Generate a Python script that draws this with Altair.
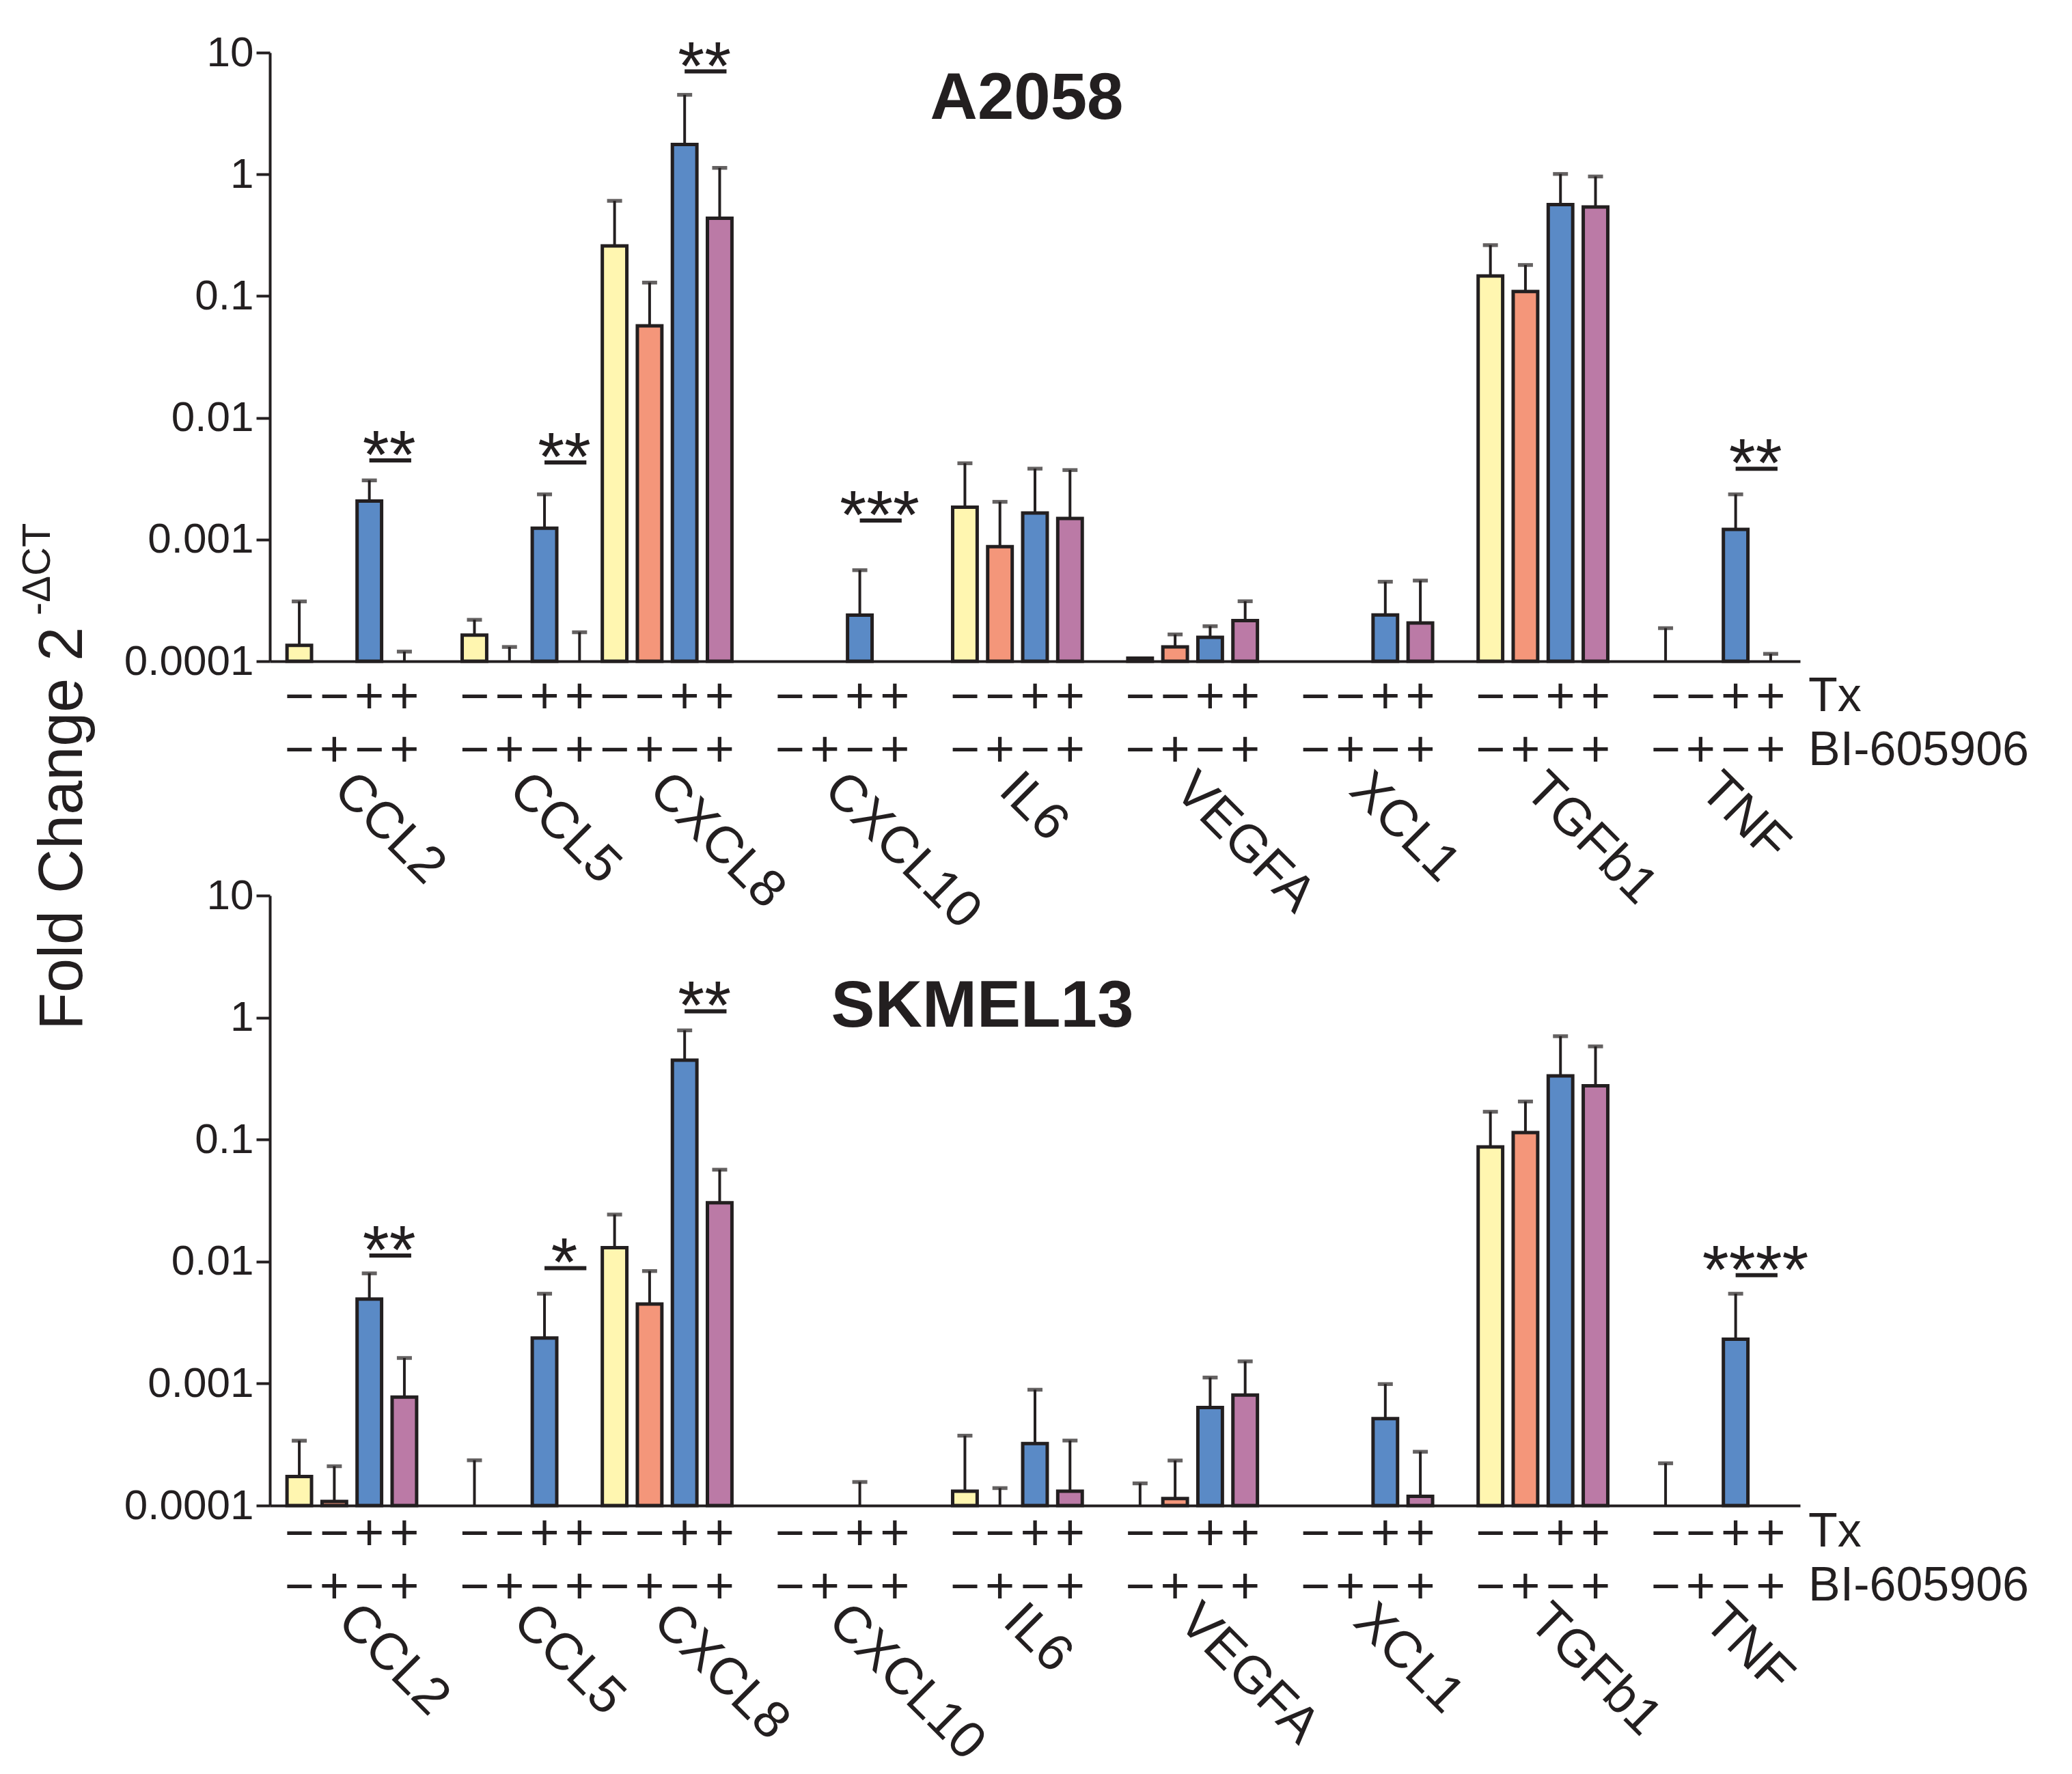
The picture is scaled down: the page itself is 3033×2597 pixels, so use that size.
import altair as alt
import pandas as pd

# ---------------- data ----------------
genes = ["CCL2", "CCL5", "CXCL8", "CXCL10", "IL6", "VEGFA", "XCL1", "TGFb1", "TNF"]
conditions = ["Tx- BI-", "Tx- BI+", "Tx+ BI-", "Tx+ BI+"]
tx_signs = ["−", "−", "+", "+"]
bi_signs = ["−", "+", "−", "+"]
bar_colors = ["#FFF6B0", "#F4967A", "#5A8AC6", "#BB7AA6"]
y_ticks = [0.0001, 0.001, 0.01, 0.1, 1, 10]
row_labels = ["Tx", "BI-605906"]

# A2058 : mean fold change and mean+error (None = not shown; values < 1e-4 lie below the axis)
a2058_c1_mean = [0.000135, 0.000164, 0.258, None, 0.00184, 0.000106, None, 0.146, 0.00007]
a2058_c1_upper = [0.00031, 0.000219, 0.605, None, 0.00423, None, None, 0.262, 0.000187]
a2058_c2_mean = [None, 0.00007, 0.0569, None, 0.000875, 0.000131, None, 0.109, None]
a2058_c2_upper = [None, 0.000131, 0.129, None, 0.00204, 0.000166, None, 0.18, None]
a2058_c3_mean = [0.00207, 0.00124, 1.76, 0.000239, 0.00165, 0.000157, 0.00024, 0.565, 0.00121]
a2058_c3_upper = [0.00306, 0.00235, 4.5, 0.00056, 0.00382, 0.000194, 0.00045, 1.007, 0.00235]
a2058_c4_mean = [0.00007, 0.00007, 0.436, None, 0.00149, 0.000216, 0.000206, 0.539, 0.00007]
a2058_c4_upper = [0.00012, 0.000173, 1.13, None, 0.00372, 0.000311, 0.00046, 0.96, 0.000115]

a2058_sig_genes = ["CCL2", "CCL5", "CXCL8", "CXCL10", "TNF"]
a2058_sig_labels = ["**", "**", "**", "***", "**"]
a2058_sig_levels = [0.00446, 0.00429, 7.0, 0.00143, 0.00381]

# SKMEL13
skmel13_c1_mean = [0.000173, 0.00007, 0.013, None, 0.000131, 0.00007, None, 0.0869, 0.00007]
skmel13_c1_upper = [0.00034, 0.000235, 0.0243, None, 0.000374, 0.000152, None, 0.169, 0.000222]
skmel13_c2_mean = [0.000108, None, 0.00448, None, 0.00007, 0.000114, None, 0.114, None]
skmel13_c2_upper = [0.00021, None, 0.00836, None, 0.000139, 0.000234, None, 0.205, None]
skmel13_c3_mean = [0.00492, 0.00236, 0.448, 0.00007, 0.000322, 0.000636, 0.000515, 0.333, 0.00231]
skmel13_c3_upper = [0.008, 0.00545, 0.785, 0.000156, 0.00089, 0.00112, 0.00099, 0.703, 0.00545]
skmel13_c4_mean = [0.000773, None, 0.0303, None, 0.000131, 0.000804, 0.000119, 0.276, None]
skmel13_c4_upper = [0.00162, None, 0.0566, None, 0.000341, 0.00152, 0.000276, 0.58, None]

skmel13_sig_genes = ["CCL2", "CCL5", "CXCL8", "TNF"]
skmel13_sig_labels = ["**", "*", "**", "****"]
skmel13_sig_levels = [0.0112, 0.00883, 1.125, 0.00773]

# ---------------- styling ----------------
INK = "#231F20"
FONT = "Liberation Sans"
W = 2240
H_TOP = 891
H_BOT = 893

# slots: four bars per gene, an empty slot between genes (none after CCL5, as in the figure)
slot_domain = []
for g in genes:
    slot_domain += [f"{g}|{i}" for i in range(4)]
    if g not in ("CCL5", genes[-1]):
        slot_domain.append(f"{g}|gap")

x_scale = alt.Scale(domain=slot_domain, paddingInner=0.3, paddingOuter=0.49)
x_axis = alt.Axis(labels=False, ticks=False, title=None, domainWidth=4,
                  domainColor=INK, grid=False)
y_scale = alt.Scale(type="log", domain=[1e-4, 10], clamp=True)
y_axis = alt.Axis(values=y_ticks, format="~g", title=None, grid=False,
                  labelFontSize=62, labelColor=INK, labelFont=FONT, labelPadding=4,
                  labelLimit=500, tickSize=20, tickWidth=4, tickColor=INK,
                  domainWidth=4, domainColor=INK)


def X(field):
    return alt.X(field, scale=x_scale, axis=x_axis, title=None)


def Y(field):
    return alt.Y(field, scale=y_scale, axis=y_axis, title=None)


def single_text(text, x, y, **mark):
    return alt.Chart(pd.DataFrame(dict(t=[text]))).mark_text(
        font=FONT, color=INK, **mark).encode(x=alt.value(x), y=alt.value(y), text="t:N")


def panel(name, means, uppers, sig_genes, sig_labels, sig_levels, H,
          tx_base, bi_base, tx_lab, bi_lab, gene_dx, gene_dy, title_x, title_y,
          extra=None):
    rows = []
    for ci, cond in enumerate(conditions):
        for gi, g in enumerate(genes):
            rows.append(dict(gene=g, cond=cond, slot=f"{g}|{ci}",
                             mean=means[ci][gi], upper=uppers[ci][gi],
                             tx=tx_signs[ci], bi=bi_signs[ci]))
    df = pd.DataFrame(rows)
    bars_df = df[df["mean"].notna() & (df["mean"] >= 1e-4)]
    err_df = df[df["upper"].notna()]

    sig_df = pd.DataFrame(dict(slot_a=[f"{g}|2" for g in sig_genes],
                               slot_b=[f"{g}|3" for g in sig_genes],
                               label=sig_labels, level=sig_levels))
    gene_df = pd.DataFrame(dict(gene=genes, slot=[f"{g}|1" for g in genes]))

    err = alt.Chart(err_df).mark_rule(color=INK, strokeWidth=4).encode(
        x=X("slot:N"), y=Y("mean:Q"), y2="upper:Q")
    caps = alt.Chart(err_df).mark_tick(color=INK, size=22, thickness=5.5).encode(
        x=X("slot:N"), y=Y("upper:Q"))
    bars = alt.Chart(bars_df).mark_bar(stroke=INK, strokeWidth=5).encode(
        x=X("slot:N"), y=Y("mean:Q"),
        fill=alt.Fill("cond:N", scale=alt.Scale(domain=conditions, range=bar_colors),
                      legend=None))
    sig_rule = alt.Chart(sig_df).mark_rule(color=INK, strokeWidth=6, x2Offset=10).encode(
        x=X("slot_a:N"), x2="slot_b:N", y=Y("level:Q"))
    sig_text = alt.Chart(sig_df).mark_text(
        font=FONT, fontSize=100, color=INK, align="center", baseline="alphabetic",
        xOffset=29, yOffset=26).encode(x=X("slot_a:N"), y=Y("level:Q"), text="label:N")
    tx_row = alt.Chart(df).mark_text(font=FONT, fontSize=74, color=INK,
                                     baseline="alphabetic").encode(
        x=X("slot:N"), y=alt.value(H + tx_base), text="tx:N")
    bi_row = alt.Chart(df).mark_text(font=FONT, fontSize=74, color=INK,
                                     baseline="alphabetic").encode(
        x=X("slot:N"), y=alt.value(H + bi_base), text="bi:N")
    gene_lab = alt.Chart(gene_df).mark_text(
        font=FONT, fontSize=76, color=INK, angle=45, align="left",
        baseline="alphabetic", xOffset=gene_dx).encode(
        x=X("slot:N"), y=alt.value(H + gene_dy), text="gene:N")
    tx_name = single_text(row_labels[0], W + 12, H + tx_lab, fontSize=70,
                          align="left", baseline="alphabetic")
    bi_name = single_text(row_labels[1], W + 12, H + bi_lab, fontSize=70,
                          align="left", baseline="alphabetic")
    title = single_text(name, title_x, title_y, fontSize=96, fontWeight="bold",
                        align="center", baseline="alphabetic")

    layers = [err, bars, caps, sig_rule, sig_text, tx_row, bi_row, gene_lab,
              tx_name, bi_name, title]
    if extra:
        layers += extra
    return alt.layer(*layers).properties(width=W, height=H)


ytitle_main = single_text("Fold Change 2", -275, 1431, fontSize=90, angle=270,
                          align="left", baseline="alphabetic")
ytitle_sup = single_text("-ΔCT", -322, 824, fontSize=58, angle=270,
                         align="left", baseline="alphabetic")

top = panel("A2058",
            [a2058_c1_mean, a2058_c2_mean, a2058_c3_mean, a2058_c4_mean],
            [a2058_c1_upper, a2058_c2_upper, a2058_c3_upper, a2058_c4_upper],
            a2058_sig_genes, a2058_sig_labels, a2058_sig_levels, H_TOP,
            tx_base=76, bi_base=154, tx_lab=73, bi_lab=152,
            gene_dx=-4, gene_dy=192, title_x=1108, title_y=97,
            extra=[ytitle_main, ytitle_sup])
bottom = panel("SKMEL13",
               [skmel13_c1_mean, skmel13_c2_mean, skmel13_c3_mean, skmel13_c4_mean],
               [skmel13_c1_upper, skmel13_c2_upper, skmel13_c3_upper, skmel13_c4_upper],
               skmel13_sig_genes, skmel13_sig_labels, skmel13_sig_levels, H_BOT,
               tx_base=65, bi_base=143, tx_lab=60, bi_lab=139,
               gene_dx=2, gene_dy=173, title_x=1043, title_y=192)

chart = alt.vconcat(top, bottom, spacing=343, bounds="flush").properties(
    padding={"left": 19, "top": 38, "right": 5, "bottom": 5}, background="white"
).configure(font=FONT).configure_view(stroke="transparent", strokeWidth=0)

chart.save("out.html", embed_options={"renderer": "svg", "actions": False})
